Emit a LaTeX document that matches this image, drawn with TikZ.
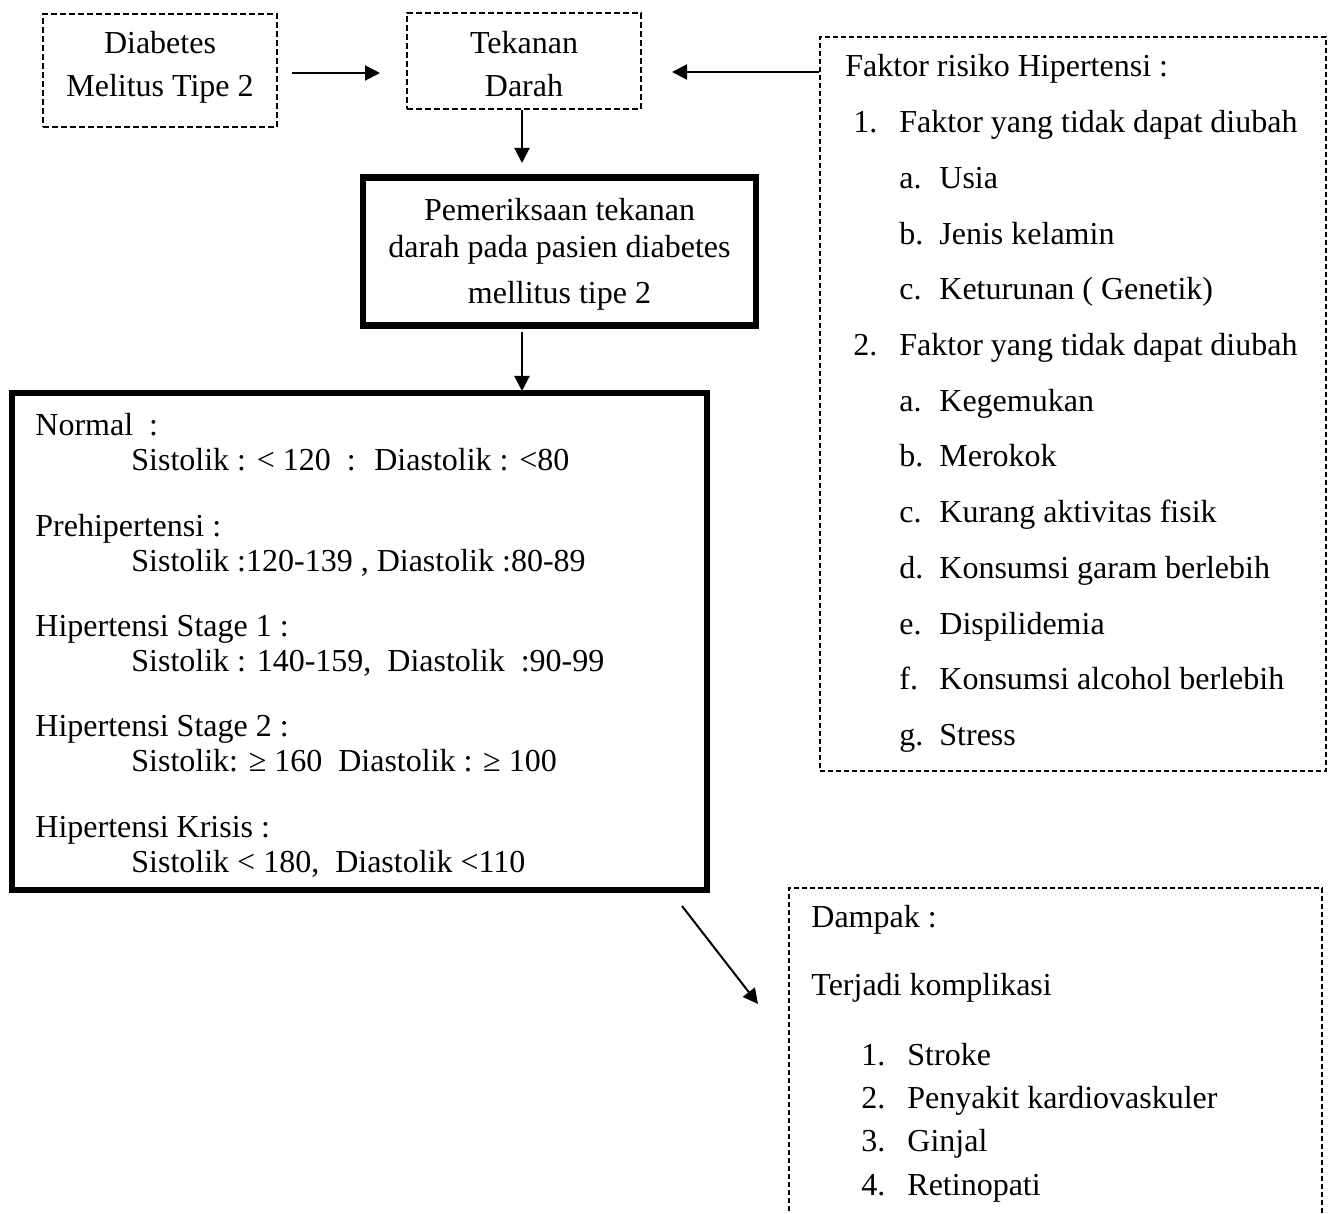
\documentclass[tikz,border=0pt]{standalone}
\usepackage{fontspec}
\setmainfont{Liberation Serif}
\usetikzlibrary{arrows.meta,fit}
\begin{document}
\begin{tikzpicture}[x=0.5pt,y=-0.5pt,
  font=\fontsize{16pt}{19pt}\selectfont,
  dbox/.style={draw, line width=1pt, dash pattern=on 3pt off 1.5pt, inner sep=0pt},
  dboxthin/.style={draw, line width=0.8pt, dash pattern=on 2.6pt off 1.4pt, inner sep=0pt},
  sbox/.style={draw, line width=3.2pt, inner sep=0pt},
  arr/.style={line width=1pt, -{Triangle[length=7.5pt,width=7.5pt]}},
  lt/.style={anchor=base west, inner sep=0pt},
  ct/.style={anchor=base, inner sep=0pt},
]
\useasboundingbox (0,0) rectangle (1335,1214);
\fill[white] (0,0) rectangle (1335,1214);
\clip (0,0) rectangle (1335,1214);

% boxes
\node[dbox, fit={(43,14) (277,127)}] (A) {};
\node[dbox, fit={(407,13) (641,109)}] (B) {};
\node[sbox, fit={(363,177.5) (756,325.5)}] (C) {};
\node[sbox, fit={(12,393) (707,890)}] (D) {};
\node[dboxthin, fit={(820,37) (1326,771)}] (E) {};
\node[dboxthin, fit={(789,888) (1322,1240)}] (F) {};

% box A text
\node[ct] (a1) at (160,54) {Diabetes};
\node[ct] (a2) at (160,97) {Melitus Tipe 2};
% box B text
\node[ct] (b1) at (524,54) {Tekanan};
\node[ct] (b2) at (524,97) {Darah};
% box C text
\node[ct] (c1) at (559.5,221) {Pemeriksaan tekanan};
\node[ct] (c2) at (559.5,258) {darah pada pasien diabetes};
\node[ct] (c3) at (559.5,304) {mellitus tipe 2};

% box D text
\node[lt] (d1) at (35,436) {Normal~ :};
\node[lt] (d2) at (131,471) {Sistolik : < 120~ :~ Diastolik : <80};
\node[lt] (d3) at (35,536.25) {Prehipertensi :};
\node[lt] (d4) at (131,571.25) {Sistolik :120-139 , Diastolik :80-89};
\node[lt] (d5) at (35,636.5) {Hipertensi Stage 1 :};
\node[lt] (d6) at (131,671.5) {Sistolik : 140-159,~ Diastolik~ :90-99};
\node[lt] (d7) at (35,736.75) {Hipertensi Stage 2 :};
\node[lt] (d8) at (131,771.75) {Sistolik: ≥ 160~ Diastolik : ≥ 100};
\node[lt] (d9) at (35,837) {Hipertensi Krisis :};
\node[lt] (d10) at (131,872) {Sistolik < 180,~ Diastolik <110};

% box E text
\node[lt] (e0) at (845,77) {Faktor risiko Hipertensi :};
\node[lt] (e1n) at (853,132.7) {1.};
\node[lt] (e1) at (899,132.7) {Faktor yang tidak dapat diubah};
\node[lt] (e2n) at (899,188.4) {a.};
\node[lt] (e2) at (939,188.4) {Usia};
\node[lt] (e3n) at (899,244.1) {b.};
\node[lt] (e3) at (939,244.1) {Jenis kelamin};
\node[lt] (e4n) at (899,299.8) {c.};
\node[lt] (e4) at (939,299.8) {Keturunan ( Genetik)};
\node[lt] (e5n) at (853,355.5) {2.};
\node[lt] (e5) at (899,355.5) {Faktor yang tidak dapat diubah};
\node[lt] (e6n) at (899,411.2) {a.};
\node[lt] (e6) at (939,411.2) {Kegemukan};
\node[lt] (e7n) at (899,466.9) {b.};
\node[lt] (e7) at (939,466.9) {Merokok};
\node[lt] (e8n) at (899,522.6) {c.};
\node[lt] (e8) at (939,522.6) {Kurang aktivitas fisik};
\node[lt] (e9n) at (899,578.3) {d.};
\node[lt] (e9) at (939,578.3) {Konsumsi garam berlebih};
\node[lt] (e10n) at (899,634) {e.};
\node[lt] (e10) at (939,634) {Dispilidemia};
\node[lt] (e11n) at (899,689.7) {f.};
\node[lt] (e11) at (939,689.7) {Konsumsi alcohol berlebih};
\node[lt] (e12n) at (899,745.4) {g.};
\node[lt] (e12) at (939,745.4) {Stress};

% box F text
\node[lt] (f0) at (811,927) {Dampak :};
\node[lt] (f1) at (811,995) {Terjadi komplikasi};
\node[lt] (f2n) at (861,1065) {1.};
\node[lt] (f2) at (907,1065) {Stroke};
\node[lt] (f3n) at (861,1108) {2.};
\node[lt] (f3) at (907,1108) {Penyakit kardiovaskuler};
\node[lt] (f4n) at (861,1151.5) {3.};
\node[lt] (f4) at (907,1151.5) {Ginjal};
\node[lt] (f5n) at (861,1195) {4.};
\node[lt] (f5) at (907,1195) {Retinopati};

% connectors
\coordinate (ab0) at (292,73);
\coordinate (ab1) at (380,73);
\coordinate (bc1) at (522,163);
\coordinate (cd1) at (522,391);
\coordinate (eb1) at (672,72);
\coordinate (df0) at (682,906);
\coordinate (df1) at (758,1004);

\draw[arr] (ab0) -- (ab1);
\draw[arr] (B.south -| bc1) -- (bc1);
\draw[arr] ([yshift=-1.6pt]C.south -| cd1) -- (cd1);
\draw[arr] (E.west |- eb1) -- (eb1);
\draw[arr] (df0) -- (df1);
\end{tikzpicture}
\end{document}
